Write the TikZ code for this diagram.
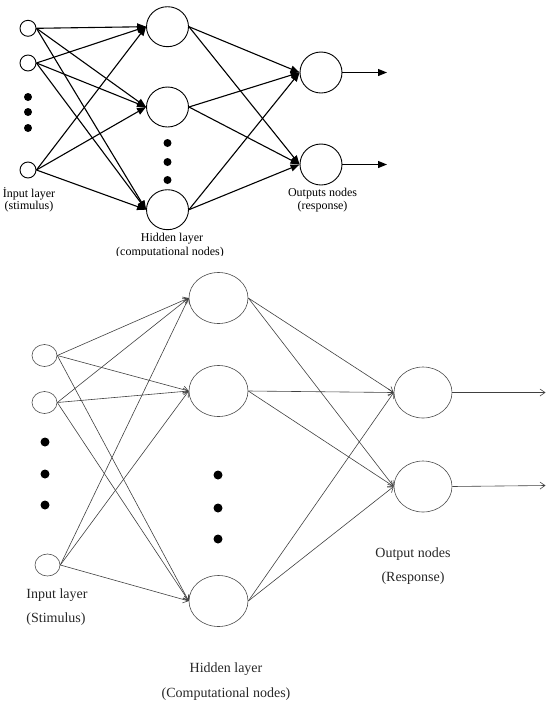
\documentclass[tikz,border=0pt]{standalone}
\usepackage{fontspec}
\newfontfamily\topfont{Liberation Serif}
\usetikzlibrary{arrows.meta,shapes.geometric}
\tikzset{
  tin/.style={circle, draw, line width=0.9pt, minimum size=16pt, inner sep=0pt},
  thid/.style={ellipse, draw, line width=0.9pt, minimum width=42pt, minimum height=40pt, inner sep=0pt},
  tout/.style={ellipse, draw, line width=0.9pt, minimum width=42pt, minimum height=41pt, inner sep=0pt},
  tarr/.style={line width=1.1pt, -{Triangle[length=9pt,width=7pt]}},
  tdot/.style={circle, fill, minimum size=8pt, inner sep=0pt},
  tlab/.style={font=\topfont\fontsize{12}{12}\selectfont, inner sep=0pt},
  bin/.style={ellipse, draw=black!70, line width=0.6pt, minimum width=25pt, minimum height=22pt, inner sep=0pt},
  bhid/.style={ellipse, draw=black!70, line width=0.6pt, minimum width=59pt, minimum height=51pt, inner sep=0pt},
  bout/.style={ellipse, draw=black!70, line width=0.6pt, minimum width=58pt, minimum height=51pt, inner sep=0pt},
  barr/.style={draw=black!75, line width=0.6pt, -{Straight Barb[length=5pt,width=7pt]}},
  bdot/.style={circle, fill, minimum size=9pt, inner sep=0pt},
  blab/.style={font=\topfont\fontsize{14}{15}\selectfont, text=black!85, inner sep=0pt},
}
\begin{document}
\begin{tikzpicture}[x=1pt,y=-1pt]
\useasboundingbox (0,0) rectangle (550,710);
% ---------------- top diagram ----------------
\begin{scope}
\clip (0,0) rectangle (550,255);
\node[tin] (ti1) at (28,28.3) {};
\node[tin] (ti2) at (28,63) {};
\node[tin] (ti3) at (28,170) {};
\node[tdot] (tda) at (28,97) {};
\node[tdot] (tdb) at (28,112) {};
\node[tdot] (tdc) at (28,128) {};
\node[thid] (th1) at (167.5,26.7) {};
\node[thid] (th2) at (167.5,107) {};
\node[thid] (th3) at (167.5,209.7) {};
\node[tdot] (tdd) at (167.5,143) {};
\node[tdot] (tde) at (167.5,162) {};
\node[tdot] (tdf) at (167.5,180) {};
\node[tout] (to1) at (321,72.5) {};
\node[tout] (to2) at (321,164.5) {};
\coordinate (te1) at (387,72.5);
\coordinate (te2) at (387,164.5);
\foreach \i in {ti1,ti2,ti3}{
  \foreach \h in {th1,th2,th3}{
    \draw[tarr] (\i.east) -- (\h.west);
  }
}
\foreach \h in {th1,th2,th3}{
  \foreach \o in {to1,to2}{
    \draw[tarr] (\h.east) -- (\o.west);
  }
}
\draw[tarr] (to1.east) -- (te1);
\draw[tarr] (to2.east) -- (te2);
\node[tlab] (tl1) at (29,194) {İnput layer};
\node[tlab] (tl2) at (29,207) {(stimulus)};
\node[tlab] (tl3) at (172,239) {Hidden layer};
\node[tlab] (tl4) at (170,252.5) {(computational nodes)};
\node[tlab] (tl5) at (322.5,194) {Outputs nodes};
\node[tlab] (tl6) at (322.5,207) {(response)};
\end{scope}
% ---------------- bottom diagram ----------------
\node[bin] (bi1) at (44.5,355.5) {};
\node[bin] (bi2) at (44.5,402.5) {};
\node[bin] (bi3) at (47.5,565) {};
\node[bdot] (bda) at (45,442) {};
\node[bdot] (bdb) at (45,474) {};
\node[bdot] (bdc) at (45,505) {};
\node[bhid] (bh1) at (218.5,298) {};
\node[bhid] (bh2) at (218.5,391) {};
\node[bhid] (bh3) at (218.5,601) {};
\node[bdot] (bdd) at (218,475) {};
\node[bdot] (bde) at (218,508) {};
\node[bdot] (bdf) at (218,539) {};
\node[bout] (bo1) at (423,392.5) {};
\node[bout] (bo2) at (423,486.5) {};
\coordinate (be1) at (545.5,392.5);
\coordinate (be2) at (545.5,485.5);
\foreach \i in {bi1,bi2,bi3}{
  \foreach \h in {bh1,bh2,bh3}{
    \draw[barr] (\i.east) -- (\h.west);
  }
}
\foreach \h in {bh1,bh2,bh3}{
  \foreach \o in {bo1,bo2}{
    \draw[barr] (\h.east) -- (\o.west);
  }
}
\draw[barr] (bo1.east) -- (be1);
\draw[barr] (bo2.east) -- (be2);
\node[blab] (bl1) at (57,595) {Input layer};
\node[blab] (bl2) at (56,619) {(Stimulus)};
\node[blab] (bl3) at (226,669) {Hidden layer};
\node[blab] (bl4) at (226,694) {(Computational nodes)};
\node[blab] (bl5) at (413,554) {Output nodes};
\node[blab] (bl6) at (413,578) {(Response)};
\end{tikzpicture}
\end{document}
